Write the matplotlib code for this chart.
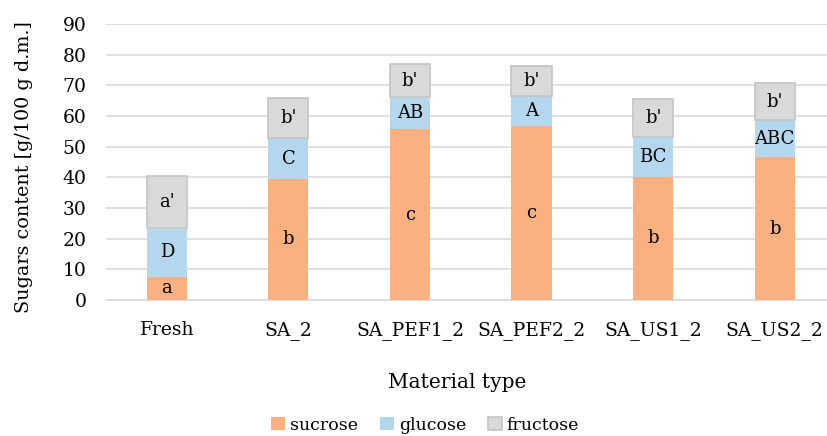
import matplotlib.pyplot as plt
import numpy as np

materials = ['Fresh', 'SA_2', 'SA_PEF1_2', 'SA_PEF2_2', 'SA_US1_2', 'SA_US2_2']
sucrose = [7.6, 39.5, 55.6, 56.7, 40.2, 46.6]
glucose = [16.0, 13.2, 10.6, 9.8, 12.8, 12.0]
fructose = [16.9, 13.1, 10.6, 9.8, 12.5, 12.2]

sucrose_letters = ['a', 'b', 'c', 'c', 'b', 'b']
glucose_letters = ['D', 'C', 'AB', 'A', 'BC', 'ABC']
fructose_letters = ["a'", "b'", "b'", "b'", "b'", "b'"]

plt.rcParams['font.family'] = ['DejaVu Serif']

fig = plt.figure(figsize=(8.27, 4.36), dpi=100)
ax = fig.add_axes([106 / 827, (436 - 300) / 436, (827 - 106) / 827, 276 / 436])

x = np.arange(len(materials))
w = 0.33
suc = np.array(sucrose)
glu = np.array(glucose)
fru = np.array(fructose)

ax.bar(x, suc, w, color='#FBB07F', label='sucrose', zorder=3)
ax.bar(x, glu, w, bottom=suc, color='#B4D7EE', label='glucose', zorder=3)
ax.bar(x, fru, w, bottom=suc + glu, color='#D9D9D9', edgecolor='#C4C4C4',
       linewidth=1.2, label='fructose', zorder=3)

for i in range(len(x)):
    ax.text(x[i], suc[i] / 2, sucrose_letters[i],
            ha='center', va='center', fontsize=13, zorder=4)
    ax.text(x[i], suc[i] + glu[i] / 2, glucose_letters[i],
            ha='center', va='center', fontsize=13, zorder=4)
    ax.text(x[i], suc[i] + glu[i] + fru[i] / 2, fructose_letters[i],
            ha='center', va='center', fontsize=13, zorder=4)

ax.set_ylim(0, 90)
ax.set_yticks(range(0, 91, 10))
ax.set_xlim(-0.5, 5.43)
ax.set_xticks(x)
ax.set_xticklabels(materials)
ax.yaxis.grid(True, color='#D9D9D9', linewidth=1.2, zorder=0)
ax.tick_params(axis='both', length=0, labelsize=13.5)
ax.tick_params(axis='x', pad=15)
ax.tick_params(axis='y', pad=14)
for side in ['top', 'right', 'left']:
    ax.spines[side].set_visible(False)
ax.spines['bottom'].set_color('#D9D9D9')
ax.spines['bottom'].set_linewidth(1.2)

ax.set_ylabel('Sugars content [g/100 g d.m.]', fontsize=13.8)
ax.yaxis.set_label_coords(-(106 - 33) / 721, (300 - 167) / 276)
ax.set_xlabel('Material type', fontsize=14.5)
ax.xaxis.set_label_coords((457 - 106) / 721, -(373 - 300) / 276)

fig.legend(*ax.get_legend_handles_labels(), loc='center',
           bbox_to_anchor=(425 / 827, 1 - 425 / 436), ncol=3, frameon=False,
           fontsize=12.5, handlelength=0.8, handleheight=0.8, handletextpad=0.3,
           columnspacing=1.25)

plt.savefig('out.png', dpi=100)
